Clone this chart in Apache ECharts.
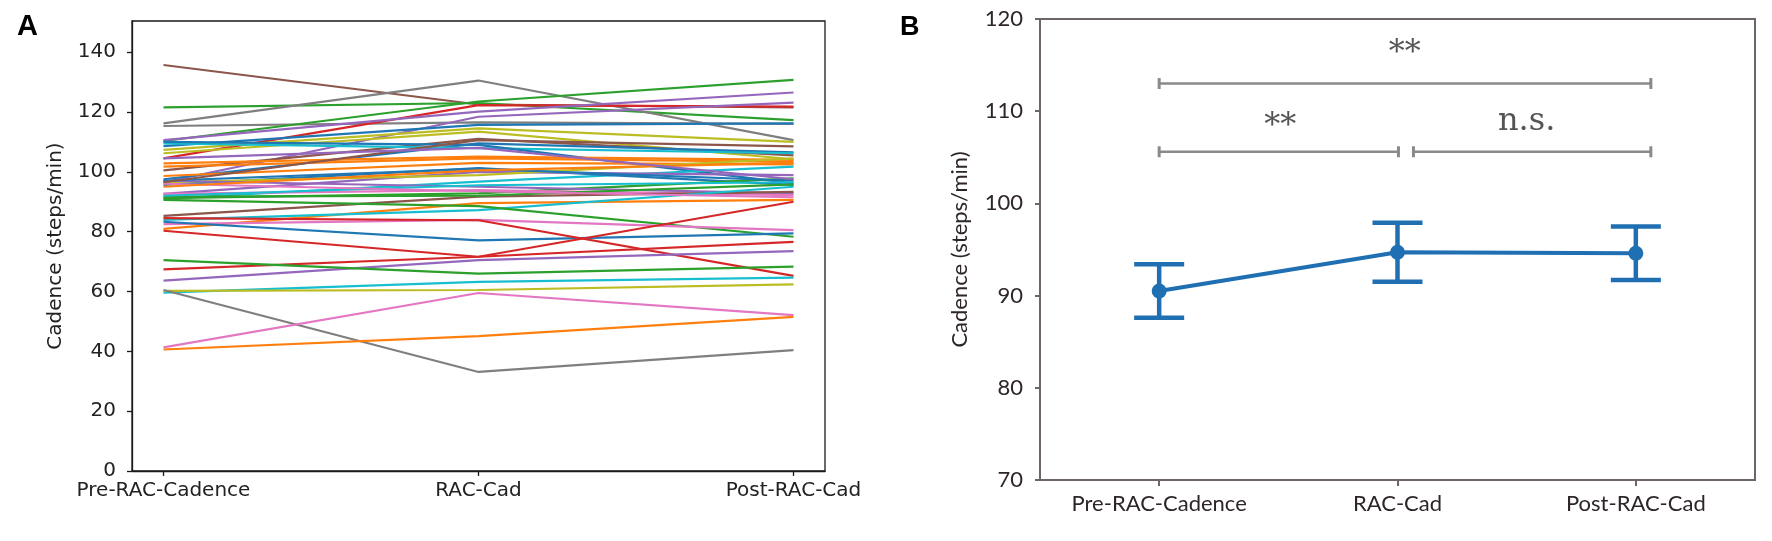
<!DOCTYPE html>
<html>
<head>
<meta charset="utf-8">
<script src="https://cdn.jsdelivr.net/npm/echarts@6/dist/echarts.min.js"></script>
<style>
html,body{margin:0;padding:0;background:#fff;}
#c{width:1772px;height:541px;}
</style>
</head>
<body>
<div id="c"></div>
<script>
// ---------------- DATA ----------------
const categories = ['Pre-RAC-Cadence', 'RAC-Cad', 'Post-RAC-Cad'];

// Panel A: individual subjects (one value per condition)
const preCad  = [135.7,121.5,116.2,115.3,110.3,104.5,110.6, 96.5,108.6,107.3,106.2,100.5, 97.5,109.5,110.0,102.8,101.7, 98.6, 91.0, 95.6, 92.6, 96.5, 91.2, 97.0, 92.6, 85.3, 80.9, 83.9, 90.6, 82.5, 83.3, 84.5, 80.3, 91.7, 67.4, 63.6, 70.5, 59.6, 60.2, 60.5, 41.3, 40.6, 97.0, 92.0, 96.0, 96.5, 95.0,104.5];
const racCad  = [122.5,123.0,130.5,116.5,123.5,122.3,120.1,118.4,115.7,114.5,113.4,111.0,109.5,107.9,109.0,105.1,104.5,103.0, 96.7,101.2,100.0, 98.9, 92.8, 95.0, 93.9, 91.7, 89.5, 87.2, 88.5, 83.9, 77.1, 83.8, 71.6, 92.0, 71.6, 70.5, 66.0, 63.2, 60.5, 33.1, 59.5, 45.1,101.0, 95.5, 93.5,110.6,100.5,108.0];
const postCad = [121.5,117.3,110.6,116.0,130.7,121.8,126.5,123.1,116.2,110.0,104.2,105.5,106.5,106.2, 96.1,104.0,103.3,102.5,101.7, 95.6, 98.9,104.5, 97.8, 92.8, 92.2, 93.3, 90.6, 95.0, 78.3, 80.5, 79.4, 65.2, 90.0, 95.8, 76.6, 73.5, 68.3, 64.6, 62.4, 40.4, 52.1, 51.5, 97.0, 96.5, 91.5,108.5,103.0, 97.5];
// colour key of each subject line (matplotlib tab10 names)
const lineColorKeys = ['brown','green','gray','gray','green','red','purple','purple','blue','olive','olive','brown','blue','cyan','blue','orange','orange','orange','cyan','blue','purple','olive','green','purple','pink','brown','orange','cyan','green','pink','blue','red','red','green','red','purple','green','cyan','olive','gray','pink','orange','blue','cyan','pink','brown','orange','purple'];

// Panel B: mean and error per condition
const meanCad = [90.5, 94.7, 94.6];
const errCad  = [2.9, 3.2, 2.9];

// Panel B: significance brackets [x1, x2, y] and labels [x, y, text]
const brackets = [[0, 2.063, 113.0], [0, 1.004, 105.6], [1.067, 2.063, 105.6]];
const sigLabels = [[1.03, 116.2, '**'], [0.508, 108.3, '**'], [1.542, 108.9, 'n.s.']];

const yTicksA = [0, 20, 40, 60, 80, 100, 120, 140];

// ---------------- STYLE ----------------
const tab10 = {blue:'#1f77b4', orange:'#ff7f0e', green:'#2ca02c', red:'#d62728', purple:'#9467bd',
  brown:'#8c564b', pink:'#e377c2', gray:'#7f7f7f', olive:'#bcbd22', cyan:'#17becf'};
const axA = '#1a1a1a';
const axB = '#6e6666';
const txtB = '#2e2626';
const blueB = '#1f6fb2';
const brGray = '#8a8a8a';

const chart = echarts.init(document.getElementById('c'), null, {renderer:'canvas'});

const seriesA = preCad.map((v, i) => ({
  type:'line', xAxisIndex:0, yAxisIndex:0, showSymbol:false, silent:true,
  data: [[0, preCad[i]], [1, racCad[i]], [2, postCad[i]]],
  lineStyle:{width:2.2, color: tab10[lineColorKeys[i]]},
  itemStyle:{color: tab10[lineColorKeys[i]]}
}));

const errSeries = {
  type:'custom', xAxisIndex:1, yAxisIndex:1, silent:true,
  data: meanCad.map((m, i) => [i, m, errCad[i]]),
  renderItem: function(params, api){
    const x = api.value(0), m = api.value(1), e = api.value(2);
    const top = api.coord([x, m + e]);
    const bot = api.coord([x, m - e]);
    const hw = 25;
    const st = {stroke: blueB, lineWidth: 4.5};
    return {type:'group', children:[
      {type:'line', shape:{x1:top[0], y1:top[1], x2:bot[0], y2:bot[1]}, style:st},
      {type:'line', shape:{x1:top[0]-hw, y1:top[1], x2:top[0]+hw, y2:top[1]}, style:st},
      {type:'line', shape:{x1:bot[0]-hw, y1:bot[1], x2:bot[0]+hw, y2:bot[1]}, style:st}
    ]};
  }
};

const meanSeries = {
  type:'line', xAxisIndex:1, yAxisIndex:1, silent:true,
  data: meanCad.map((m, i) => [i, m]),
  symbol:'circle', symbolSize:15,
  lineStyle:{width:4, color: blueB}, itemStyle:{color: blueB}
};

const bracketSeries = brackets.map(b => ({
  type:'line', xAxisIndex:1, yAxisIndex:1, silent:true,
  data: [[b[0], b[2]], [b[1], b[2]]],
  symbol:'rect', symbolSize:[3, 11],
  lineStyle:{width:2.5, color: brGray}, itemStyle:{color: brGray}
}));

const labelSeries = {
  type:'scatter', xAxisIndex:1, yAxisIndex:1, silent:true,
  data: sigLabels, symbolSize:0, itemStyle:{color:'rgba(0,0,0,0)'},
  label:{show:true, position:'inside', formatter: p => p.value[2],
    fontFamily:'DejaVu Serif', fontSize:32, color:'#2a2a2a', align:'center', verticalAlign:'middle'}
};

chart.setOption({
  animation:false,
  backgroundColor:'#fff',
  title:[
    {text:'A', left:12, top:7, textStyle:{fontFamily:'Liberation Sans', fontWeight:'bold', fontSize:29, color:'#000'}},
    {text:'B', left:895, top:9, textStyle:{fontFamily:'Liberation Sans', fontWeight:'bold', fontSize:27, color:'#000'}}
  ],
  grid:[
    {left:132, top:21, width:693, height:450, show:true, borderColor:axA, borderWidth:1.3, backgroundColor:'#fff'},
    {left:1040, top:19, width:715, height:461, show:true, borderColor:axB, borderWidth:2, backgroundColor:'#fff'}
  ],
  xAxis:[
    {type:'value', gridIndex:0, min:-0.1, max:2.1,
      axisLine:{show:true, onZero:false, lineStyle:{color:axA, width:1.3}},
      axisTick:{show:true, length:5, customValues:[0,1,2], lineStyle:{color:axA, width:1.3}},
      axisLabel:{customValues:[0,1,2], formatter: v => categories[Math.round(v)], margin:10,
        fontFamily:'DejaVu Sans', fontSize:20, color:'#222'},
      splitLine:{show:false}},
    {type:'value', gridIndex:1, min:-0.5, max:2.5,
      axisLine:{show:true, onZero:false, lineStyle:{color:axB, width:2}},
      axisTick:{show:true, length:6, customValues:[0,1,2], lineStyle:{color:axB, width:2}},
      axisLabel:{customValues:[0,1,2], formatter: v => categories[Math.round(v)], margin:13,
        fontFamily:'Lato', fontSize:22, color:txtB},
      splitLine:{show:false}}
  ],
  yAxis:[
    {type:'value', gridIndex:0, min:0, max:150.4,
      name:'Cadence (steps/min)', nameLocation:'middle', nameGap:66,
      nameTextStyle:{fontFamily:'DejaVu Sans', fontSize:20, color:'#222'},
      axisLine:{show:true, onZero:false, lineStyle:{color:axA, width:1.3}},
      axisTick:{show:true, length:5, customValues:yTicksA, lineStyle:{color:axA, width:1.3}},
      axisLabel:{customValues:yTicksA, margin:16, fontFamily:'DejaVu Sans', fontSize:20, color:'#222'},
      splitLine:{show:false}},
    {type:'value', gridIndex:1, min:70, max:120, interval:10,
      name:'Cadence (steps/min)', nameLocation:'middle', nameGap:69,
      nameTextStyle:{fontFamily:'Lato', fontSize:22, color:txtB},
      axisLine:{show:true, onZero:false, lineStyle:{color:axB, width:2}},
      axisTick:{show:true, length:5, lineStyle:{color:axB, width:2}},
      axisLabel:{margin:17, fontFamily:'Lato', fontSize:22, color:txtB},
      splitLine:{show:false}}
  ],
  series: seriesA.concat([errSeries, meanSeries], bracketSeries, [labelSeries])
});
</script>
</body>
</html>
